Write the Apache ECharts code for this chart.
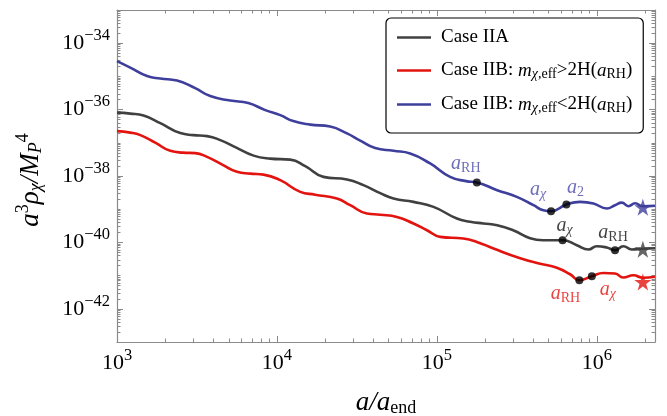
<!DOCTYPE html>
<html>
<head>
<meta charset="utf-8">
<script src="https://cdn.jsdelivr.net/npm/echarts@6/dist/echarts.min.js"></script>
<style>
  html, body { margin: 0; padding: 0; background: #fff; }
  #chart { width: 667px; height: 416px; }
</style>
</head>
<body>
<div id="chart"></div>
<script>
// values, stored as log10 (both axes are logarithmic)
// Case IIA
const aIIA = [3.000, 3.083, 3.166, 3.271, 3.396, 3.477, 3.563, 3.646, 3.746, 3.854, 3.958, 4.083, 4.177, 4.291, 4.438, 4.541, 4.646, 4.729, 4.854, 4.979, 5.125, 5.208, 5.291, 5.377, 5.477, 5.583, 5.664, 5.786, 5.875, 5.948, 6.000, 6.063, 6.114, 6.166, 6.219, 6.288, 6.364]
const rhoIIA = [-36.090, -36.120, -36.181, -36.407, -36.708, -36.768, -36.799, -36.919, -37.145, -37.386, -37.477, -37.507, -37.703, -38.026, -38.104, -38.276, -38.517, -38.677, -38.779, -38.930, -39.280, -39.376, -39.431, -39.482, -39.633, -39.874, -39.934, -39.934, -40.085, -40.214, -40.115, -40.154, -40.235, -40.115, -40.214, -40.190, -40.175]
// Case IIB, m_eff > 2H(a_RH)
const aIIBgt = [3.000, 3.083, 3.146, 3.239, 3.333, 3.414, 3.489, 3.563, 3.658, 3.750, 3.833, 3.916, 4.021, 4.146, 4.239, 4.375, 4.458, 4.563, 4.646, 4.750, 4.854, 4.938, 5.021, 5.166, 5.250, 5.354, 5.521, 5.646, 5.750, 5.833, 5.891, 5.969, 6.041, 6.114, 6.166, 6.229, 6.288, 6.364]
const rhoIIBgt = [-36.648, -36.693, -36.768, -36.995, -37.242, -37.296, -37.311, -37.423, -37.658, -37.875, -37.929, -37.959, -38.125, -38.478, -38.562, -38.677, -38.879, -39.129, -39.165, -39.232, -39.431, -39.633, -39.834, -39.883, -39.985, -40.184, -40.477, -40.643, -40.763, -40.959, -41.140, -41.019, -40.920, -40.938, -41.059, -40.989, -41.065, -41.034]
// Case IIB, m_eff < 2H(a_RH)
const aIIBlt = [3.000, 3.083, 3.188, 3.271, 3.375, 3.489, 3.583, 3.708, 3.821, 3.927, 4.021, 4.102, 4.208, 4.333, 4.438, 4.521, 4.614, 4.729, 4.833, 4.958, 5.083, 5.183, 5.250, 5.377, 5.500, 5.604, 5.666, 5.714, 5.810, 5.896, 5.979, 6.063, 6.114, 6.156, 6.198, 6.239, 6.288, 6.364]
const rhoIIBlt = [-34.538, -34.734, -34.990, -35.065, -35.125, -35.352, -35.593, -35.728, -35.804, -36.015, -36.166, -36.346, -36.452, -36.512, -36.717, -36.934, -37.160, -37.242, -37.320, -37.622, -38.026, -38.155, -38.194, -38.427, -38.629, -38.879, -39.030, -39.060, -38.858, -38.779, -38.828, -38.978, -38.879, -38.803, -38.909, -38.819, -38.909, -38.894]

// marked points [log a, log rho] and their subscripts
const dotsIIBlt = [[5.250, -38.194], [5.714, -39.060], [5.810, -38.858]]
const subsIIBlt = ['RH', 'χ', '2']
const dotsIIA = [[5.786, -39.934], [6.114, -40.235]]
const subsIIA = ['χ', 'RH']
const dotsIIBgt = [[5.891, -41.140], [5.969, -41.019]]
const subsIIBgt = ['RH', 'χ']
const starA = 6.288
const starRho = [-40.205, -41.191, -38.939]

// tick labels (exponents)
const xLabelExp = [3, 4, 5, 6]
const yLabelExp = [-42, -40, -38, -36, -34]

const X_MIN = 3, X_MAX = 6.364, Y_MIN = -43, Y_MAX = -33
const serif = 'Liberation Serif'
const frame = '#8a8a8a'
const cBlack = '#404040', cRed = '#e3140f', cBlue = '#3e3e9c'

function minorTicks(lo, hi, skipInts) {
  const out = []
  for (let n = Math.floor(lo); n < hi; n++) {
    if (n > lo && skipInts.indexOf(n) < 0) out.push(n)
    for (let k = 2; k <= 9; k++) {
      const v = n + Math.log10(k)
      if (v > lo && v < hi) out.push(v)
    }
  }
  return out
}
const xMinor = minorTicks(X_MIN, X_MAX, xLabelExp)
const yMinor = minorTicks(Y_MIN, Y_MAX, yLabelExp)

const tickRich = {
  b: { fontFamily: serif, fontSize: 22, color: '#000' },
  s: { fontFamily: serif, fontSize: 16.5, color: '#000', padding: [0, 0, 15, 0] }
}
const pow = v => '{b|10}{s|' + (v < 0 ? '\u2212' + (-v) : v) + '}'

function axis(pos, ticks, len, extra) {
  const isX = pos === 'bottom' || pos === 'top'
  return Object.assign({
    type: 'value',
    position: pos,
    min: isX ? X_MIN : Y_MIN,
    max: isX ? X_MAX : Y_MAX,
    axisLine: { show: false, onZero: false, lineStyle: { color: frame, width: 1 } },
    axisTick: { show: true, inside: true, length: len, customValues: ticks, lineStyle: { color: frame, width: 1 } },
    axisLabel: { show: false },
    splitLine: { show: false }
  }, extra || {})
}
const frameLine = { show: true, onZero: false, lineStyle: { color: frame, width: 1.2 } }

const nameRich = {
  i: { fontFamily: serif, fontStyle: 'italic', fontSize: 27, color: '#000' },
  sp: { fontFamily: serif, fontSize: 18, color: '#000', padding: [0, 0, 15, 0] },
  sb: { fontFamily: serif, fontSize: 18, color: '#000', padding: [11, 0, 0, 0] },
  sbi: { fontFamily: serif, fontStyle: 'italic', fontSize: 18, color: '#000', padding: [11, 0, 0, 0] }
}

const legendNames = {
  'Case IIA': '{t|Case IIA}',
  'Case IIB: m_χ,eff>2H(a_RH)': '{t|Case IIB: }{i|m}{si|χ}{s|,eff}{t|>2H(}{i|a}{s|RH}{t|)}',
  'Case IIB: m_χ,eff<2H(a_RH)': '{t|Case IIB: }{i|m}{si|χ}{s|,eff}{t|<2H(}{i|a}{s|RH}{t|)}'
}
const names = Object.keys(legendNames)

const zip = (xs, ys) => xs.map((x, i) => [x, ys[i]])

function lineSeries(name, xs, ys, color) {
  return {
    name: name, type: 'line', data: zip(xs, ys),
    symbol: 'none', smooth: 0.5, z: 2,
    lineStyle: { color: color, width: 2.6 }, itemStyle: { color: color }
  }
}

// label offsets relative to the marked dot
const labelOffsets = {
  IIBlt: [[-11, -19], [-13, -21], [9, -17]],
  IIA: [[2, -14], [-2, -17]],
  IIBgt: [[-14, 14], [16, 14]]
}
const labelRich = {
  a: { fontFamily: serif, fontStyle: 'italic', fontSize: 20 },
  s: { fontFamily: serif, fontSize: 14, padding: [9, 0, 0, 0] },
  si: { fontFamily: serif, fontStyle: 'italic', fontSize: 14, padding: [9, 0, 0, 0] }
}
function dotItems(dots, subs, offs, color) {
  return dots.map((d, i) => ({
    value: d,
    label: {
      show: true, position: 'inside', offset: offs[i], color: color,
      formatter: '{a|a}{' + (subs[i] === 'χ' ? 'si' : 's') + '|' + subs[i] + '}',
      rich: labelRich
    }
  }))
}

const starPath = 'path://M50,0 L61.8,35.4 L99,35.4 L69,57.3 L80.4,92.7 L50,70.8 L19.6,92.7 L31,57.3 L1,35.4 L38.2,35.4 Z'

const chart = echarts.init(document.getElementById('chart'))
chart.setOption({
  animation: false,
  backgroundColor: '#fff',
  grid: { left: 117, right: 12, top: 10, bottom: 74, outerBoundsMode: 'none' },
  legend: {
    data: names,
    orient: 'vertical',
    left: 386, top: 18,
    padding: [10, 11, 18, 11],
    itemGap: 13,
    icon: 'rect',
    itemWidth: 34, itemHeight: 2.5,
    borderColor: '#000', borderWidth: 1.2, borderRadius: 5,
    backgroundColor: '#fff',
    formatter: name => legendNames[name],
    textStyle: {
      fontFamily: serif, fontSize: 19, color: '#000', padding: [0, 0, 0, 5],
      rich: {
        t: { fontFamily: serif, fontSize: 19, lineHeight: 22, color: '#000' },
        i: { fontFamily: serif, fontStyle: 'italic', fontSize: 19, lineHeight: 22, color: '#000' },
        s: { fontFamily: serif, fontSize: 14, lineHeight: 15, padding: [7, 0, 0, 0], color: '#000' },
        si: { fontFamily: serif, fontStyle: 'italic', fontSize: 14, lineHeight: 15, padding: [7, 0, 0, 0], color: '#000' }
      }
    }
  },
  xAxis: [
    axis('bottom', xLabelExp, 6, {
      axisLine: frameLine,
      axisLabel: { show: true, customValues: xLabelExp, margin: 5, formatter: pow, rich: tickRich },
      name: '{i|a}{i|/}{i|a}{sb|end}',
      nameLocation: 'middle', nameGap: 46,
      nameTextStyle: { rich: nameRich }
    }),
    axis('bottom', xMinor, 3.5),
    axis('top', xLabelExp, 6, { axisLine: frameLine }),
    axis('top', xMinor, 3.5)
  ],
  yAxis: [
    axis('left', yLabelExp, 6, {
      axisLine: frameLine,
      axisLabel: { show: true, customValues: yLabelExp, margin: 7, formatter: pow, rich: tickRich },
      name: '{i|a}{sp|3}{i|ρ}{sbi|χ}{i|/M}{sbi|P}{sp|4}',
      nameLocation: 'middle', nameGap: 70, nameRotate: 90,
      nameTextStyle: { rich: nameRich, padding: [0, 8, 0, 0] }
    }),
    axis('left', yMinor, 3.5),
    axis('right', yLabelExp, 6, { axisLine: frameLine }),
    axis('right', yMinor, 3.5)
  ],
  series: [
    lineSeries(names[0], aIIA, rhoIIA, cBlack),
    lineSeries(names[1], aIIBgt, rhoIIBgt, cRed),
    lineSeries(names[2], aIIBlt, rhoIIBlt, cBlue),
    {
      type: 'scatter', symbol: starPath,
      symbolSize: 17, z: 4,
      data: [
        { value: [starA, starRho[0]], itemStyle: { color: cBlack } },
        { value: [starA, starRho[1]], itemStyle: { color: cRed } },
        { value: [starA, starRho[2]], itemStyle: { color: cBlue } }
      ]
    },
    {
      type: 'scatter', symbol: 'circle', symbolSize: 8, z: 5,
      itemStyle: { color: '#000' },
      data: [].concat(
        dotItems(dotsIIBlt, subsIIBlt, labelOffsets.IIBlt, '#4a4aa8'),
        dotItems(dotsIIA, subsIIA, labelOffsets.IIA, '#111'),
        dotItems(dotsIIBgt, subsIIBgt, labelOffsets.IIBgt, '#e3140f')
      )
    }
  ]
})
</script>
</body>
</html>
